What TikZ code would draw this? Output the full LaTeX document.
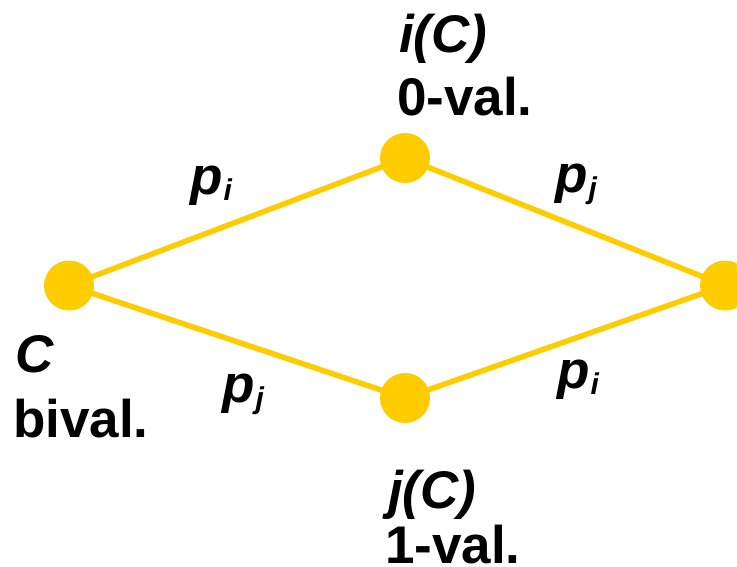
\documentclass[tikz,border=0pt]{standalone}
\usepackage{fontspec}
\setmainfont{Liberation Sans}
\definecolor{dotyellow}{RGB}{255,204,0}
\tikzset{
  dot/.style={circle, fill=dotyellow, draw=none, minimum size=50pt, inner sep=0pt},
  edge/.style={draw=dotyellow, line width=5.5pt},
  lbl/.style={anchor=base west, inner sep=0pt, font=\fontsize{53}{53}\selectfont\bfseries},
}
\newcommand{\psub}[1]{\textit{p}\kern1pt\raisebox{-6pt}{\fontsize{30}{30}\selectfont\itshape #1}}
\begin{document}
\begin{tikzpicture}[x=1pt,y=-1pt]
\useasboundingbox (0,0) rectangle (737,566);
\coordinate (Cc) at (69,285.5);
\coordinate (Ic) at (405,158);
\coordinate (Jc) at (405,398);
\coordinate (Rc) at (725,285.5);
\path[edge] (Cc) -- (Ic);
\path[edge] (Cc) -- (Jc);
\path[edge] (Ic) -- (Rc);
\path[edge] (Jc) -- (Rc);
\node[dot] (C) at (Cc) {};
\node[dot] (I) at (Ic) {};
\node[dot] (J) at (Jc) {};
\node[dot] (R) at (Rc) {};
\node[lbl] (lC) at (15,372) {\textit{C}};
\node[lbl] (lbiv) at (13,437) {bival.};
\node[lbl] (liC) at (399,52) {\textit{i(C)}};
\node[lbl] (l0) at (397,115) {0-val.};
\node[lbl] (ljC) at (388,508) {\textit{j(C)}};
\node[lbl] (l1) at (385,563) {1-val.};
\node[lbl] (p1) at (190,194) {\psub{i}};
\node[lbl] (p2) at (222,402) {\psub{j}};
\node[lbl] (p3) at (555,192) {\psub{j}};
\node[lbl] (p4) at (557,388) {\psub{i}};
\end{tikzpicture}
\end{document}
